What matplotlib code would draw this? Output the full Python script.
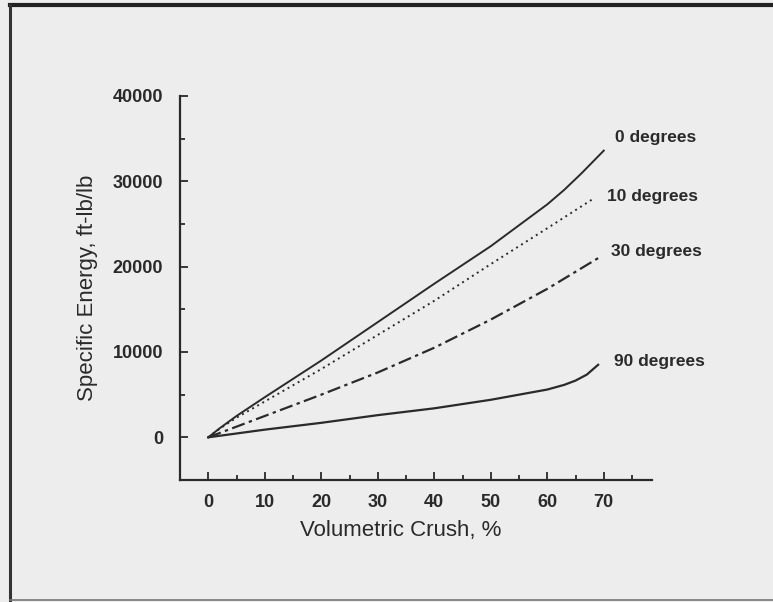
"""
specific energy vs volumetric crush, for four loading angles
"""
import matplotlib
matplotlib.use("Agg")
import matplotlib.pyplot as plt
from matplotlib.lines import Line2D
from matplotlib.ticker import MultipleLocator

# curve data (crush in %, energy in ft-lb/lb)
crush_0 = [0, 2, 5, 10, 20, 30, 40, 50, 60, 63, 66, 70]
energy_0 = [0, 1050, 2500, 4700, 9000, 13500, 18000, 22400, 27300, 29000, 30900, 33600]

crush_10 = [0, 2, 5, 10, 20, 30, 40, 50, 60, 68]
energy_10 = [0, 1000, 2300, 4200, 8000, 12000, 16000, 20300, 24500, 27900]

crush_30 = [0, 10, 20, 30, 40, 50, 60, 69]
energy_30 = [0, 2500, 5000, 7600, 10500, 13800, 17400, 21000]

crush_90 = [0, 10, 20, 30, 40, 50, 60, 63, 65, 67, 69]
energy_90 = [0, 900, 1700, 2600, 3400, 4400, 5600, 6150, 6650, 7350, 8500]

curve_labels = ["0 degrees", "10 degrees", "30 degrees", "90 degrees"]
label_x = [72.0, 70.6, 71.2, 71.8]
label_y = [35100, 28200, 21800, 8900]

x_ticks = [0, 10, 20, 30, 40, 50, 60, 70]
y_ticks = [0, 10000, 20000, 30000, 40000]

plt.rcParams['font.family'] = ['Liberation Sans', 'DejaVu Sans']
bg = "#ededed"
ink = "#2a2a2a"

fig = plt.figure(figsize=(7.73, 6.02), dpi=100, facecolor=bg)
W, H = 773, 602
ax = fig.add_axes([180 / W, 1 - 480 / H, (651.8 - 180) / W, (480 - 96) / H])
ax.set_facecolor(bg)

ax.plot(crush_0, energy_0, color=ink, lw=1.4, ls="-")
ax.plot(crush_10, energy_10, color=ink, lw=1.4, ls=(0, (1, 2)))
ax.plot(crush_30, energy_30, color=ink, lw=1.6, ls=(0, (6, 2, 1.5, 2)))
ax.plot(crush_90, energy_90, color=ink, lw=1.6, ls="-")

for txt, lx, ly in zip(curve_labels, label_x, label_y):
    ax.text(lx, ly, txt, ha="left", va="center", fontsize=12.5,
            fontweight="bold", color=ink)

ax.set_xlim(-5, 78.5)
ax.set_ylim(-5000, 40000)
ax.set_xticks(x_ticks)
ax.set_yticks(y_ticks)
ax.xaxis.set_minor_locator(MultipleLocator(5))
ax.yaxis.set_minor_locator(MultipleLocator(5000))
ax.tick_params(which="both", direction="in", color=ink, width=1.3,
               labelsize=13, labelcolor=ink)
ax.tick_params(which="major", length=6)
ax.tick_params(which="minor", length=3.5)
ax.tick_params(axis="x", pad=10)
ax.tick_params(axis="y", pad=12)
for lab in ax.get_xticklabels() + ax.get_yticklabels():
    lab.set_fontweight("bold")

for side in ["top", "right"]:
    ax.spines[side].set_visible(False)
for side in ["left", "bottom"]:
    ax.spines[side].set_color(ink)
    ax.spines[side].set_linewidth(1.6)

ax.set_xlabel("Volumetric Crush, %", fontsize=16, color=ink, labelpad=6)
ax.xaxis.set_label_coords(0.468, -0.105)
ax.set_ylabel("Specific Energy, ft-lb/lb", fontsize=16, color=ink, labelpad=11)

# scanned page frame
fig.add_artist(Line2D([10 / W, 1], [1 - 5 / H, 1 - 5 / H], color="#222222",
                      lw=3, transform=fig.transFigure))
fig.add_artist(Line2D([10 / W, 10 / W], [1 - 5 / H, 1 - 600 / H],
                      color="#333333", lw=2.2, transform=fig.transFigure))
fig.add_artist(Line2D([10 / W, 1], [1 - 600 / H, 1 - 600 / H],
                      color="#777777", lw=1.2, transform=fig.transFigure))

fig.savefig("out.png", dpi=100, facecolor=bg)
